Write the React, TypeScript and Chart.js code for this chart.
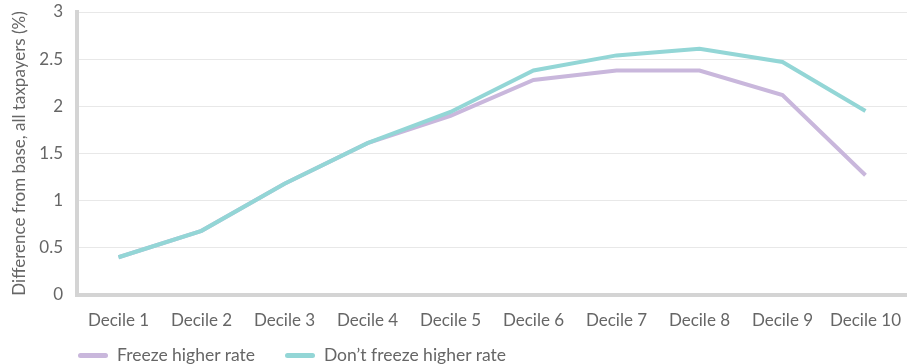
import React, { useEffect, useRef } from "react";
import { Chart, registerables } from "chart.js";

Chart.register(...registerables);

const categories = ["Decile 1", "Decile 2", "Decile 3", "Decile 4", "Decile 5", "Decile 6", "Decile 7", "Decile 8", "Decile 9", "Decile 10"];
const freezeHigher = [0.40, 0.68, 1.18, 1.61, 1.90, 2.28, 2.38, 2.38, 2.12, 1.27];
const dontFreezeHigher = [0.40, 0.68, 1.18, 1.61, 1.94, 2.38, 2.54, 2.61, 2.47, 1.95];
const seriesNames = ["Freeze higher rate", "Don\u2019t freeze higher rate"];
const yTitle = "Difference from base, all taxpayers (%)";

const PURPLE = "#c9b7dc";
const TEAL = "#93d6d6";
const FONT = "Lato, 'Open Sans', sans-serif";
const TEXT = "#666666";

export default function App() {
  const ref = useRef<HTMLCanvasElement | null>(null);
  useEffect(() => {
    document.body.style.margin = "0";
    const chart = new Chart(ref.current!, {
      type: "line",
      data: {
        labels: categories,
        datasets: [
          { label: seriesNames[0], data: freezeHigher, borderColor: PURPLE, backgroundColor: PURPLE, borderWidth: 4, pointRadius: 0, tension: 0, order: 1 },
          { label: seriesNames[1], data: dontFreezeHigher, borderColor: TEAL, backgroundColor: TEAL, borderWidth: 4, pointRadius: 0, tension: 0, order: 0 },
        ],
      },
      options: {
        animation: false,
        responsive: false,
        layout: { padding: { top: 12, right: 0, bottom: 0, left: 9 } },
        plugins: { legend: { display: false }, tooltip: { enabled: false } },
        scales: {
          x: {
            offset: true,
            grid: { display: false },
            border: { display: true, color: "#d4d4d4", width: 4 },
            ticks: { color: TEXT, font: { family: FONT, size: 17 }, padding: 7, maxRotation: 0, autoSkip: false },
            afterFit: (s: any) => { s.height = 69; },
          },
          y: {
            min: 0,
            max: 3,
            ticks: {
              stepSize: 0.5,
              color: TEXT,
              font: { family: FONT, size: 17 },
              padding: 14,
              callback: (v: any) => String(Number(v)),
            },
            grid: { color: "#e8e8e8", lineWidth: 1, drawTicks: false },
            border: { display: true, color: "#d4d4d4", width: 4 },
            title: { display: true, text: yTitle, color: TEXT, font: { family: FONT, size: 17 }, padding: 0 },
            afterFit: (s: any) => { s.width = 68; s.paddingTop = 0; s.paddingBottom = 0; },
          },
        },
      },
    });
    return () => chart.destroy();
  }, []);
  const legendItem = (color: string, text: string) => (
    <div style={{ display: "flex", alignItems: "center", marginRight: 30 }}>
      <span style={{ display: "inline-block", width: 30, height: 5, borderRadius: 3, background: color, marginRight: 9 }} />
      <span>{text}</span>
    </div>
  );
  return (
    <div style={{ position: "fixed", left: 0, top: 0, width: 908, height: 364 }}>
      <canvas ref={ref} width={908} height={364} style={{ display: "block" }} />
      <div style={{ position: "absolute", left: 78, top: 345, display: "flex", fontFamily: FONT, fontSize: 17.5, color: TEXT, lineHeight: "20px" }}>
        {legendItem(PURPLE, seriesNames[0])}
        {legendItem(TEAL, seriesNames[1])}
      </div>
    </div>
  );
}
